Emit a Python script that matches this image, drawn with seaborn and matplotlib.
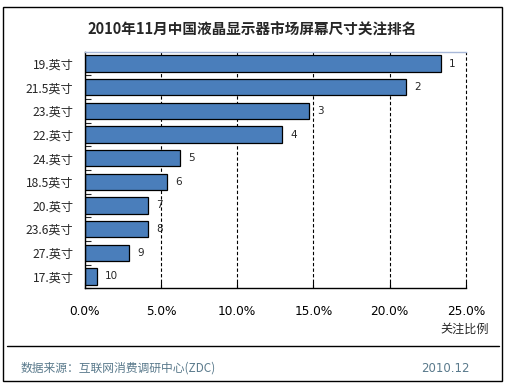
import matplotlib
matplotlib.use('Agg')
import matplotlib.pyplot as plt
import numpy as np
import pandas as pd
import seaborn as sns
from matplotlib.patches import Rectangle
from matplotlib.lines import Line2D

sizes = ['19.英寸', '21.5英寸', '23.英寸', '22.英寸', '24.英寸',
         '18.5英寸', '20.英寸', '23.6英寸', '27.英寸', '17.英寸']
share = [23.35, 21.04, 14.69, 12.92, 6.23, 5.42, 4.13, 4.13, 2.93, 0.79]
ranks = ['1', '2', '3', '4', '5', '6', '7', '8', '9', '10']
xticks = [0, 5, 10, 15, 20, 25]

sns.set_style('white')
plt.rcParams['font.family'] = ['Noto Sans CJK SC', 'DejaVu Sans']

df = pd.DataFrame({'size': sizes, 'share': share})

W, H = 507, 387
fig = plt.figure(figsize=(W / 100, H / 100), dpi=100)
ax = fig.add_axes([84.6 / W, 1 - 288.3 / H, (466 - 84.6) / W, (288.3 - 51.7) / H])

sns.barplot(data=df, x='share', y='size', orient='h', color='#4a7ebb',
            saturation=1, edgecolor='black', linewidth=0.9, width=0.68, ax=ax)

ax.set_xlim(0, 25)
ax.set_ylim(len(sizes) - 0.5, -0.5)
ax.set_xticks(xticks)
ax.set_xticklabels([f'{v:.1f}%' for v in xticks], fontsize=8.7,
                   family=['DejaVu Sans'])
ax.tick_params(axis='x', bottom=True, direction='in', length=4, width=0.8,
               pad=12, colors='black')
ax.set_yticks(np.arange(len(sizes)), minor=False)
ax.set_yticks(np.arange(len(sizes)) + 0.5, minor=True)
ax.tick_params(axis='y', which='major', left=True, length=0, pad=8, labelsize=8.7)
ax.tick_params(axis='y', which='minor', left=True, direction='in', length=4, width=0.8)
ax.set_xlabel('')
ax.set_ylabel('')

for x in xticks[1:]:
    ax.axvline(x, color='black', linestyle=(0, (3, 2)), linewidth=0.8,
               zorder=0, clip_on=False)

for s in ['left', 'bottom']:
    ax.spines[s].set_color('black')
    ax.spines[s].set_linewidth(1)
ax.spines['top'].set_color('#a8b8d8')
ax.spines['top'].set_linewidth(1)
ax.spines['right'].set_visible(False)

for i, (v, r) in enumerate(zip(share, ranks)):
    ax.text(v + 0.55, i, r, va='center', ha='left', fontsize=7.5,
            family=['DejaVu Sans'])

fig.text(252 / W, 1 - 30 / H, '2010年11月中国液晶显示器市场屏幕尺寸关注排名',
         ha='center', va='center', fontsize=10.5, fontweight='bold')
fig.text(489 / W, 1 - 329 / H, '关注比例', ha='right', va='center', fontsize=8.7)

fig.add_artist(Rectangle((3 / W, 1 - 381 / H), 499 / W, 374 / H,
                         transform=fig.transFigure, fill=False,
                         edgecolor='black', linewidth=1))
fig.add_artist(Line2D([7 / W, 499 / W], [1 - 345.5 / H, 1 - 345.5 / H],
                      transform=fig.transFigure, color='black', linewidth=1))

fig.text(21 / W, 1 - 368 / H, '数据来源：互联网消费调研中心(ZDC)', ha='left',
         va='center', fontsize=8.5, color='#5a7a8c')
fig.text(470 / W, 1 - 368 / H, '2010.12', ha='right', va='center',
         fontsize=8.5, color='#5a7a8c', family=['DejaVu Sans'])

fig.savefig('out.png', dpi=100)
